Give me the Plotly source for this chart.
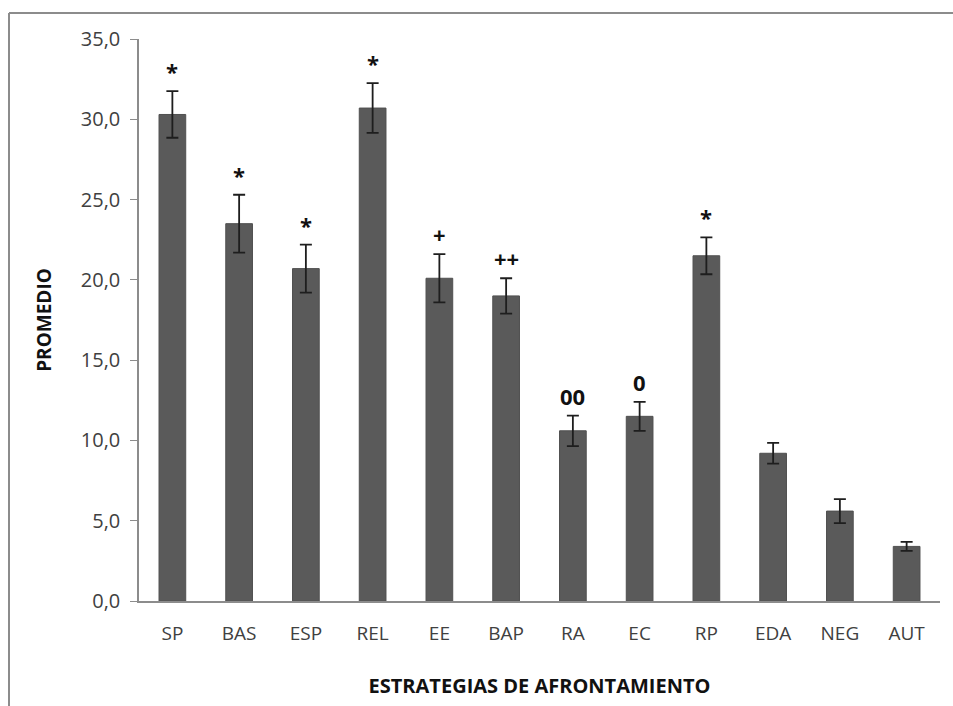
import plotly.graph_objects as go

categories = ["SP", "BAS", "ESP", "REL", "EE", "BAP", "RA", "EC", "RP", "EDA", "NEG", "AUT"]
means = [30.3, 23.5, 20.7, 30.7, 20.1, 19.0, 10.6, 11.5, 21.5, 9.2, 5.6, 3.4]
errors = [1.45, 1.8, 1.5, 1.55, 1.5, 1.1, 0.95, 0.9, 1.15, 0.65, 0.75, 0.28]
marks = ["*", "*", "*", "*", "+", "++", "00", "0", "*", "", "", ""]
y_ticks = [0, 5, 10, 15, 20, 25, 30, 35]
y_tick_labels = ["0,0", "5,0", "10,0", "15,0", "20,0", "25,0", "30,0", "35,0"]

fig = go.Figure()
fig.add_trace(go.Bar(
    x=categories, y=means,
    marker=dict(color="#5a5a5a", line=dict(color="#505050", width=1)),
    width=0.4,
    error_y=dict(type="data", array=errors, visible=True, color="#1e1e1e", thickness=1.8, width=6),
    showlegend=False,
))

for c, m, e, s in zip(categories, means, errors, marks):
    if s:
        fig.add_annotation(x=c, y=m + e, text="<b>%s</b>" % s, showarrow=False,
                           yanchor="bottom", yshift=3,
                           font=dict(family="Open Sans", size=22, color="#111111"))

W, H = 953, 706
L, R, T, B = 139, 13, 39, 105
pw, ph = W - L - R, H - T - B
fx = (9 - L) / pw
fy = (H - B - 13) / ph
fig.add_shape(type="line", xref="paper", yref="paper", x0=fx, x1=fx, y0=fy, y1=-(B + 10) / ph,
              line=dict(color="#8c8c8c", width=2))
fig.add_shape(type="line", xref="paper", yref="paper", x0=fx, x1=(W - L + 10) / pw, y0=fy, y1=fy,
              line=dict(color="#8c8c8c", width=2))

fig.update_layout(
    width=W, height=H,
    margin=dict(l=L, r=R, t=T, b=B),
    paper_bgcolor="white", plot_bgcolor="white",
    font=dict(family="Open Sans", size=19, color="#404040"),
    bargap=0.6,
    xaxis=dict(
        showline=True, linecolor="#8c8c8c", linewidth=1.5,
        ticks="", tickfont=dict(size=19, color="#404040"),
        ticklabelstandoff=14,
        title=dict(text="<b>ESTRATEGIAS DE AFRONTAMIENTO</b>", font=dict(size=20, color="#111111"), standoff=34),
    ),
    yaxis=dict(
        range=[0, 35], tickvals=y_ticks, ticktext=y_tick_labels,
        showline=True, linecolor="#8c8c8c", linewidth=1.5,
        ticks="outside", ticklen=7, tickcolor="#8c8c8c",
        ticklabelstandoff=6,
        showgrid=False, zeroline=False,
        tickfont=dict(size=20, color="#404040"),
        title=dict(text="<b>PROMEDIO</b>", font=dict(size=19, color="#111111"), standoff=24),
    ),
)

fig.write_html("out.html", config={"displayModeBar": False},
               post_script="document.body.style.margin='0';document.body.style.padding='0';")
